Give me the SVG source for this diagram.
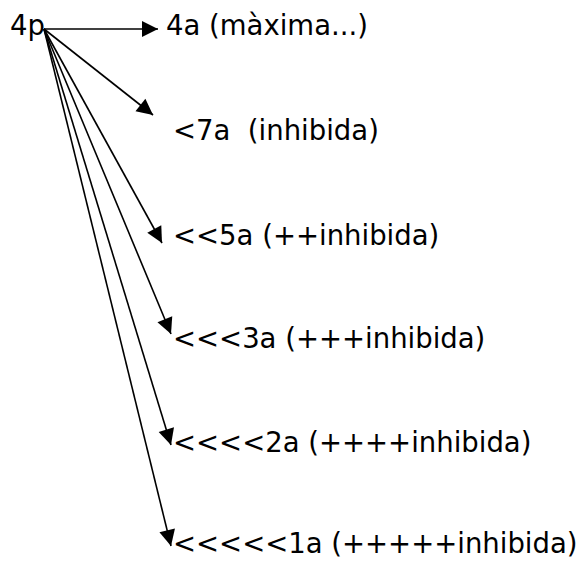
<svg xmlns="http://www.w3.org/2000/svg" width="585" height="566" viewBox="0 0 585 566">
<style>
text{font-family:"DejaVu Sans","Verdana",sans-serif;font-size:27.5px;fill:#000}
.c line{stroke:#000;stroke-width:1.6;marker-end:url(#ah)}
</style>
<defs>
<marker id="ah" markerUnits="userSpaceOnUse" markerWidth="20" markerHeight="20" refX="16" refY="8" orient="auto" overflow="visible">
<path d="M0,0 L16,8 L0,16 z" fill="#000"/>
</marker>
</defs>
<rect width="585" height="566" fill="#fff"/>
<g class="c" id="connectors">
<line x1="44" y1="29" x2="158" y2="29"/>
<line x1="44" y1="29" x2="153" y2="115"/>
<line x1="44" y1="29" x2="162" y2="243"/>
<line x1="44" y1="29" x2="171" y2="334"/>
<line x1="44" y1="29" x2="171" y2="445"/>
<line x1="44" y1="29" x2="171" y2="546"/>
</g>
<g id="n0"><text x="10" y="35">4p</text></g>
<g id="n1"><text x="166" y="35">4a (màxima...)</text></g>
<g id="n2"><text x="173" y="140" xml:space="preserve">&lt;7a  (inhibida)</text></g>
<g id="n3"><text x="173" y="245">&lt;&lt;5a (++inhibida)</text></g>
<g id="n4"><text x="173" y="348">&lt;&lt;&lt;3a (+++inhibida)</text></g>
<g id="n5"><text x="173" y="452">&lt;&lt;&lt;&lt;2a (++++inhibida)</text></g>
<g id="n6"><text x="173" y="553">&lt;&lt;&lt;&lt;&lt;1a (+++++inhibida)</text></g>
</svg>
